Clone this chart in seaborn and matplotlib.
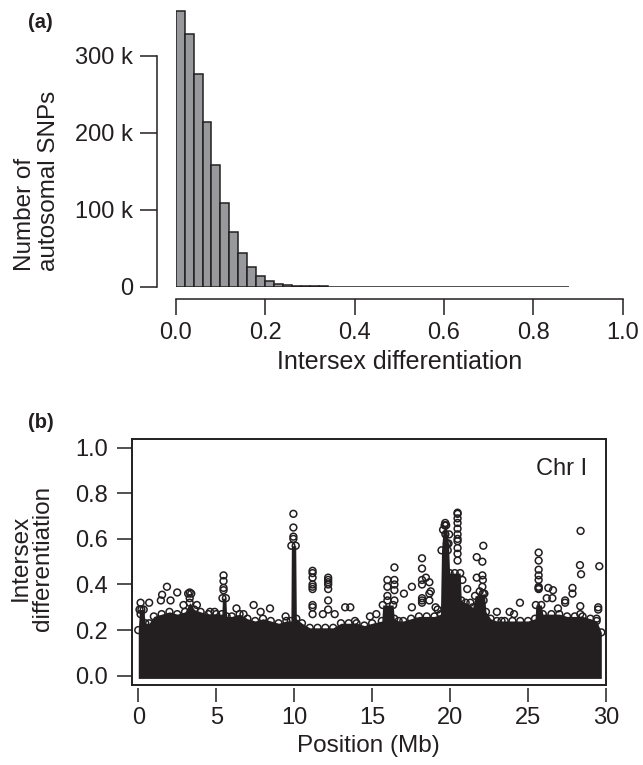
import numpy as np
import pandas as pd
import matplotlib
matplotlib.use("Agg")
import matplotlib.pyplot as plt
import seaborn as sns

# ---------------- data ----------------
# Panel (a): histogram of intersex differentiation (bins of 0.02), counts in thousands
hist_bin_width = 0.02
hist_counts_k = [359, 328, 276, 214, 158, 109, 71, 44, 25.5, 14.5,
                 7.5, 3.8, 1.8, 1.0, 0.6, 0.4, 0.3, 0.25, 0.2, 0.15,
                 0.12, 0.1, 0.08, 0.07, 0.06, 0.05, 0.04, 0.035, 0.03, 0.03,
                 0.025, 0.02, 0.02, 0.015, 0.015, 0.012, 0.01, 0.01, 0.008, 0.006,
                 0.005, 0.004, 0.003, 0.002]
hist_xticks = [0.0, 0.2, 0.4, 0.6, 0.8, 1.0]
hist_xticklabels = ["0.0", "0.2", "0.4", "0.6", "0.8", "1.0"]
hist_yticks = [0, 100000, 200000, 300000]
hist_yticklabels = ["0", "100 k", "200 k", "300 k"]

# Panel (b): dense band upper envelope along chromosome I (Mb, differentiation)
band_pos = [0.0, 0.08, 0.35, 0.45, 0.7, 1.0, 1.5, 2.0, 2.5, 3.0, 3.3, 3.6, 4.0, 4.5,
            5.0, 5.36, 5.40, 5.62, 5.67, 6.0, 6.5, 7.0, 7.5, 8.0, 8.5, 9.0, 9.5,
            9.79, 9.82, 10.1, 10.14, 10.5, 11.0, 11.5, 12.0, 12.5, 13.0, 13.5,
            14.0, 14.5, 15.0, 15.62, 15.68, 16.35, 16.42, 16.7, 17.0, 17.5, 18.0,
            18.5, 19.0, 19.38, 19.45, 19.55, 19.75, 19.9, 19.97, 20.3, 20.65,
            20.72, 21.0, 21.45, 21.6, 22.2, 22.3, 22.6, 23.0, 23.5, 24.0, 24.5,
            25.0, 25.45, 25.5, 25.85, 25.95, 26.5, 27.0, 27.5, 28.0, 28.5, 29.0,
            29.4, 29.7]
band_top = [0.20, 0.29, 0.29, 0.23, 0.23, 0.26, 0.27, 0.28, 0.27, 0.28, 0.32, 0.29,
            0.28, 0.27, 0.27, 0.27, 0.34, 0.34, 0.26, 0.26, 0.27, 0.25, 0.24, 0.25,
            0.24, 0.23, 0.24, 0.24, 0.57, 0.57, 0.25, 0.23, 0.21, 0.21, 0.21, 0.21,
            0.23, 0.23, 0.23, 0.22, 0.23, 0.24, 0.31, 0.31, 0.25, 0.24, 0.24, 0.25,
            0.26, 0.26, 0.26, 0.27, 0.55, 0.64, 0.66, 0.58, 0.45, 0.45, 0.45,
            0.33, 0.32, 0.30, 0.35, 0.36, 0.28, 0.25, 0.24, 0.24, 0.24, 0.24,
            0.24, 0.25, 0.31, 0.31, 0.27, 0.27, 0.27, 0.26, 0.26, 0.26, 0.25,
            0.24, 0.19]

# Panel (b): individual SNPs above the dense band
snp_pos = [0.15, 0.2, 0.15, 0.7, 1.45, 1.53, 1.84, 2.07, 2.5, 2.9, 3.2, 3.3, 3.4,
           3.3, 3.76, 5.47, 5.47, 5.47, 5.47, 6.3, 7.4, 7.85, 8.45, 6.75, 4.6,
           4.9, 9.45,
           9.95, 9.95, 9.95, 9.95,
           11.18, 11.18, 11.18, 11.18, 11.18, 11.18, 11.18, 11.18, 11.18,
           12.18, 12.18, 12.18, 12.18, 12.18, 12.18, 12.18,
           11.84, 12.6, 13.27, 13.6, 13.9, 14.86, 15.27,
           15.98, 15.98, 15.98, 15.98,
           16.43, 16.43, 16.43, 16.43, 16.43,
           17.04, 17.55, 17.55,
           18.2, 18.2, 18.2, 18.2, 18.2, 18.2, 18.2,
           18.45, 18.67, 18.67, 18.67, 18.76, 19.07, 19.2,
           19.69, 19.65, 19.7, 19.94, 19.8, 19.85,
           20.48, 20.48, 20.48, 20.48, 20.48, 20.48, 20.48, 20.48, 20.48, 20.48, 20.48,
           20.79, 21.1, 21.3, 21.71, 22.07, 22.13, 21.71, 22.07, 22.07, 22.1, 22.1,
           21.9, 22.15,
           23.0, 23.82, 24.1, 24.48, 23.3,
           25.68, 25.68, 25.68, 25.68, 25.68, 25.68, 25.68, 25.68,
           26.3, 26.6, 26.2, 26.56, 26.92, 27.38, 27.38, 27.85, 27.85,
           28.37, 28.33, 28.4, 28.35, 28.35, 29.57, 29.5, 29.5, 29.4]
snp_val = [0.32, 0.29, 0.27, 0.32, 0.33, 0.355, 0.39, 0.33, 0.365, 0.31, 0.36, 0.365,
           0.36, 0.34, 0.31, 0.44, 0.415, 0.385, 0.375, 0.295, 0.31, 0.28, 0.295,
           0.27, 0.28, 0.28, 0.26,
           0.60, 0.61, 0.65, 0.71,
           0.46, 0.45, 0.43, 0.40, 0.39, 0.38, 0.31, 0.30, 0.27,
           0.43, 0.42, 0.41, 0.40, 0.38, 0.33, 0.29,
           0.27, 0.27, 0.30, 0.30, 0.24, 0.26, 0.27,
           0.42, 0.39, 0.35, 0.33,
           0.475, 0.42, 0.40, 0.33, 0.375,
           0.36, 0.39, 0.30,
           0.515, 0.47, 0.42, 0.40, 0.33, 0.32, 0.34,
           0.43, 0.41, 0.36, 0.33, 0.37, 0.30, 0.29,
           0.67, 0.66, 0.62, 0.62, 0.58, 0.55,
           0.71, 0.715, 0.69, 0.67, 0.645, 0.62, 0.60, 0.59, 0.56, 0.535, 0.505,
           0.42, 0.38, 0.32, 0.52, 0.50, 0.57, 0.43, 0.44, 0.39, 0.42, 0.36,
           0.37, 0.33,
           0.28, 0.28, 0.27, 0.32, 0.24,
           0.54, 0.505, 0.465, 0.44, 0.42, 0.39, 0.38, 0.385,
           0.385, 0.375, 0.34, 0.34, 0.295, 0.33, 0.32, 0.385, 0.36,
           0.635, 0.485, 0.445, 0.305, 0.27, 0.48, 0.30, 0.29, 0.25]
pos_xticks = [0, 5, 10, 15, 20, 25, 30]
diff_yticks = [0.0, 0.2, 0.4, 0.6, 0.8, 1.0]
diff_yticklabels = ["0.0", "0.2", "0.4", "0.6", "0.8", "1.0"]

# ---------------- style ----------------
sns.set_style("ticks")
plt.rcParams["font.family"] = ["Liberation Sans", "DejaVu Sans"]
DARK = "#231f20"
GREY = "#97999c"
FS = 17
FL = 17.5
plt.rcParams["text.color"] = DARK
plt.rcParams["axes.labelcolor"] = DARK
plt.rcParams["xtick.color"] = DARK
plt.rcParams["ytick.color"] = DARK
plt.rcParams["axes.edgecolor"] = DARK

W, H = 643, 765
fig = plt.figure(figsize=(W / 100, H / 100), dpi=100)

def frac(x0, y0, x1, y1):
    return [x0 / W, 1 - y1 / H, (x1 - x0) / W, (y1 - y0) / H]

# ---------------- panel (a) ----------------
ax1 = fig.add_axes(frac(175.7, 0, 622.7, 286.7))
n_bins = len(hist_counts_k)
edges = [round(i * hist_bin_width, 4) for i in range(n_bins + 1)]
hist_df = pd.DataFrame({"x": [e + hist_bin_width / 2 for e in edges[:-1]],
                        "w": [c * 1000 for c in hist_counts_k]})
sns.histplot(data=hist_df, x="x", weights="w", bins=edges, ax=ax1,
             color=GREY, edgecolor=DARK, linewidth=1.1, alpha=1.0)
ax1.set_xlim(0, 1.0)
ax1.set_ylim(0, 372800)
for s in ["top", "right"]:
    ax1.spines[s].set_visible(False)
ax1.spines["left"].set_position(("outward", 13.5))
ax1.spines["bottom"].set_position(("outward", 9))
ax1.spines["left"].set_bounds(0, 300000)
ax1.spines["bottom"].set_bounds(0, 1.0)
for s in ["left", "bottom"]:
    ax1.spines[s].set_linewidth(1.1)
ax1.set_xticks(hist_xticks)
ax1.set_xticklabels(hist_xticklabels)
ax1.set_yticks(hist_yticks)
ax1.set_yticklabels(hist_yticklabels)
ax1.tick_params(axis="y", length=12, width=1.1, pad=5, labelsize=FS)
ax1.tick_params(axis="x", length=11.5, width=1.1, pad=5, labelsize=FS)
ax1.set_xlabel("Intersex differentiation", fontsize=FL + 0.5, labelpad=4.5)
ax1.set_ylabel("")
fig.text(37 / W, 1 - 271 / H, "Number of\nautosomal SNPs", rotation=90,
         ha="center", va="bottom", multialignment="left", fontsize=FL,
         linespacing=1.15)
fig.text(40 / W, 1 - 22 / H, "(a)", fontsize=14.5, fontweight="bold",
         ha="center", va="center")

# ---------------- panel (b) ----------------
ax2 = fig.add_axes(frac(131.7, 438.6, 606.0, 684.8))
ax2.fill_between(band_pos, -0.012, band_top, color=DARK, linewidth=0)
band_df = pd.DataFrame({"pos": band_pos, "val": band_top})
sns.scatterplot(data=band_df, x="pos", y="val", ax=ax2, marker="o", s=24,
                facecolors="none", edgecolor=DARK, linewidth=1.1, legend=False)
snp_df = pd.DataFrame({"pos": snp_pos, "val": snp_val})
sns.scatterplot(data=snp_df, x="pos", y="val", ax=ax2, marker="o", s=24,
                facecolors="none", edgecolor=DARK, linewidth=1.1, legend=False)
ax2.set_xlim(-0.42, 30.0)
ax2.set_ylim(-0.04, 1.04)
for s in ax2.spines.values():
    s.set_linewidth(1.4)
    s.set_visible(True)
ax2.set_yticks(diff_yticks)
ax2.set_yticklabels(diff_yticklabels)
ax2.tick_params(axis="y", length=11, width=1.1, pad=6, labelsize=FS)
ax2.tick_params(axis="x", bottom=False, labelbottom=False)
ax2.set_xlabel("")
ax2.set_ylabel("")
secax = ax2.secondary_xaxis(-3 / 246)
secax.spines["bottom"].set_visible(False)
secax.set_xticks(pos_xticks)
secax.set_xticklabels([str(t) for t in pos_xticks])
secax.tick_params(axis="x", length=10, width=1.1, pad=4, labelsize=FS,
                  colors=DARK)
secax.set_xlabel("Position (Mb)", fontsize=FL, labelpad=4)
ax2.text(0.96, 0.851, "Chr I", transform=ax2.transAxes, ha="right",
         va="baseline", fontsize=FS)
fig.text(32 / W, 1 - 558 / H, "Intersex\ndifferentiation", rotation=90,
         ha="center", va="center", multialignment="center", fontsize=FL,
         linespacing=1.0)
fig.text(41 / W, 1 - 423 / H, "(b)", fontsize=14.5, fontweight="bold",
         ha="center", va="center")

fig.savefig("out.png", dpi=100)
